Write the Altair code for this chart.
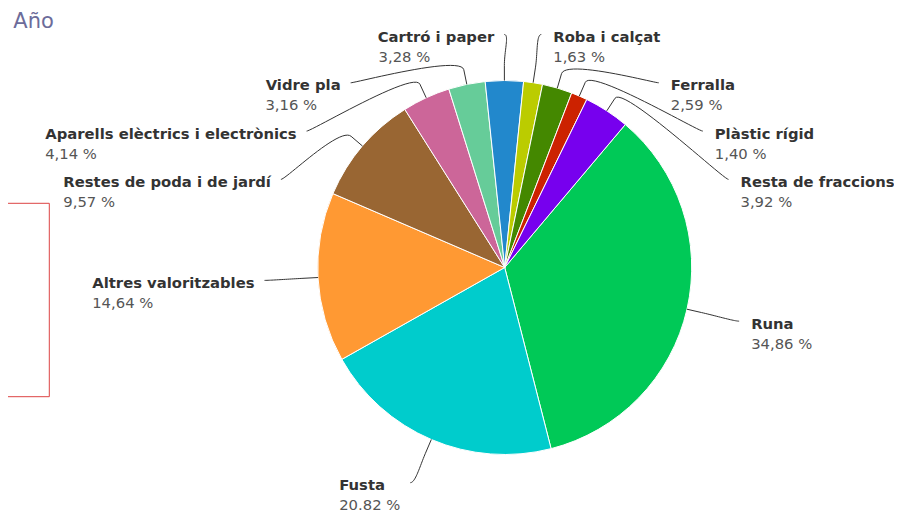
import math
import altair as alt
import pandas as pd

# ---------------- data ----------------
CATEGORIES = ["Runa", "Fusta", "Altres valoritzables", "Restes de poda i de jardí",
              "Aparells elèctrics i electrònics", "Vidre pla", "Cartró i paper",
              "Roba i calçat", "Ferralla", "Plàstic rígid", "Resta de fraccions"]
VALUES = [34.86, 20.82, 14.64, 9.57, 4.14, 3.16, 3.28, 1.63, 2.59, 1.40, 3.92]
PCT_LABELS = ["34,86 %", "20.82 %", "14,64 %", "9,57 %", "4,14 %", "3,16 %",
              "3,28 %", "1,63 %", "2,59 %", "1,40 %", "3,92 %"]
COLORS = ["#00C957", "#00CCCC", "#FF9933", "#996633", "#CC6699", "#66CC99",
          "#2288CC", "#BBCC00", "#448800", "#CC2200", "#7700EE"]
TITLE = "Año"

# ---------------- layout (chart pixel frame) ----------------
W, H = 886, 505
CX, CY = 496.7, 259.5
R = 187.0
R_LAB = 240.5
START_DEG = 40.15
CONN_OFF = 15.0
Y_TOP, SLOT, Y_BOT = 26.5, 48.3, 474.7
GAP_R, GAP_L = 12.0, 10.0
FS = 14.8
NAME_DY, PCT_DY = 7.5, 27.5
FONT = "DejaVu Sans"

# approximate DejaVu Sans advance widths (units per em = 2048)
BOLD_W = {" ": 713, "A": 1585, "C": 1499, "F": 1399, "P": 1503, "R": 1577, "V": 1585,
          "a": 1382, "b": 1466, "c": 1214, "d": 1466, "e": 1389, "è": 1389, "g": 1466,
          "i": 702, "í": 702, "j": 702, "l": 702, "n": 1458, "o": 1407, "ò": 1407,
          "p": 1466, "r": 1010, "s": 1219, "t": 979, "u": 1458, "v": 1331, "z": 1196,
          "ç": 1214, "f": 891}
REG_W = {" ": 651, ",": 651, ".": 651, "%": 1946}
for d in "0123456789":
    REG_W[d] = 1303


def text_w(s, table, default):
    return sum(table.get(ch, default) for ch in s) / 2048.0 * FS


total = sum(VALUES)
info = []
cum = 0.0
for i, (name, v, pct) in enumerate(zip(CATEGORIES, VALUES, PCT_LABELS)):
    mid = START_DEG + (cum + v / 2.0) / total * 360.0
    cum += v
    a = math.radians(mid)
    info.append(dict(i=i, name=name, pct=pct, a=a, right=(mid % 360) < 180,
                     nat=CY - R_LAB * math.cos(a)))

for side in (True, False):
    grp = sorted([d for d in info if d["right"] == side], key=lambda d: d["nat"])
    prev = None
    for d in grp:
        y = max(d["nat"], Y_TOP if prev is None else prev + SLOT)
        y = min(y, Y_BOT)
        clamped = (d["nat"] < Y_TOP and y == Y_TOP) or d["nat"] > Y_BOT
        dy = y - CY
        if clamped:
            x = CX + R_LAB * math.sin(d["a"])
        else:
            x = CX + (1 if side else -1) * math.sqrt(max(R_LAB ** 2 - dy ** 2, 0.0))
        d["x"], d["y"] = x, y
        prev = y

# connectors
conn_rows = []
for d in info:
    s, c = math.sin(d["a"]), math.cos(d["a"])
    ex, ey = CX + R * s, CY - R * c
    bx, by = CX + (R + CONN_OFF) * s, CY - (R + CONN_OFF) * c
    p0 = (d["x"], d["y"])
    p1 = (d["x"] + (-5 if d["right"] else 5), d["y"])
    p2 = (2 * bx - ex, 2 * by - ey)
    p3 = (bx, by)
    n = 24
    for k in range(n + 1):
        t = k / n
        u = 1 - t
        px = u ** 3 * p0[0] + 3 * u * u * t * p1[0] + 3 * u * t * t * p2[0] + t ** 3 * p3[0]
        py = u ** 3 * p0[1] + 3 * u * u * t * p1[1] + 3 * u * t * t * p2[1] + t ** 3 * p3[1]
        conn_rows.append(dict(cat=d["name"], seq=k, x=px, y=py))
    conn_rows.append(dict(cat=d["name"], seq=n + 1, x=ex, y=ey))
conn_df = pd.DataFrame(conn_rows)

# label texts
txt_rows = []
for d in info:
    yn, yp = d["y"] + NAME_DY, d["y"] + PCT_DY
    if d["right"]:
        lx = d["x"] + GAP_R
        txt_rows.append(dict(txt=d["name"], kind="name", align="left", x=lx, y=yn))
        txt_rows.append(dict(txt=d["pct"], kind="pct", align="left", x=lx, y=yp))
    else:
        edge = d["x"] - GAP_L
        wn = text_w(d["name"], BOLD_W, 1300)
        wp = text_w(d["pct"], REG_W, 1303)
        if wn >= wp:
            txt_rows.append(dict(txt=d["name"], kind="name", align="right", x=edge, y=yn))
            txt_rows.append(dict(txt=d["pct"], kind="pct", align="left", x=edge - wn, y=yp))
        else:
            txt_rows.append(dict(txt=d["pct"], kind="pct", align="right", x=edge, y=yp))
            txt_rows.append(dict(txt=d["name"], kind="name", align="left", x=edge - wp, y=yn))
txt_df = pd.DataFrame(txt_rows)

XS = alt.Scale(domain=[0, W], nice=False, zero=False)
YS = alt.Scale(domain=[H, 0], nice=False, zero=False)

pie_df = pd.DataFrame({"cat": CATEGORIES, "value": VALUES, "idx": list(range(len(VALUES)))})
s0 = math.radians(START_DEG)

arc = alt.Chart(pie_df).mark_arc(radius=R, stroke="white", strokeWidth=1).encode(
    theta=alt.Theta("value:Q", stack=True, scale=alt.Scale(range=[s0, s0 + 2 * math.pi])),
    color=alt.Color("cat:N", scale=alt.Scale(domain=CATEGORIES, range=COLORS), legend=None),
    order=alt.Order("idx:Q"),
    x=alt.XDatum(CX, type="quantitative", scale=XS, axis=None),
    y=alt.YDatum(CY, type="quantitative", scale=YS, axis=None),
)

conn = alt.Chart(conn_df).mark_line(color="#333333", strokeWidth=1).encode(
    x=alt.X("x:Q", scale=XS, axis=None),
    y=alt.Y("y:Q", scale=YS, axis=None),
    detail="cat:N",
    order="seq:Q",
)

text_layers = []
for kind, weight, color in (("name", "bold", "#333333"), ("pct", "normal", "#555555")):
    for al in ("left", "right"):
        sub = txt_df[(txt_df["kind"] == kind) & (txt_df["align"] == al)]
        if len(sub) == 0:
            continue
        text_layers.append(
            alt.Chart(sub).mark_text(align=al, baseline="alphabetic", font=FONT,
                                     fontSize=FS, fontWeight=weight, color=color).encode(
                x=alt.X("x:Q", scale=XS, axis=None),
                y=alt.Y("y:Q", scale=YS, axis=None),
                text="txt:N",
            )
        )

title_df = pd.DataFrame({"txt": [TITLE], "x": [5.3], "y": [20.0]})
title = alt.Chart(title_df).mark_text(align="left", baseline="alphabetic", font=FONT,
                                      fontSize=21, color="#6c6c9a").encode(
    x=alt.X("x:Q", scale=XS, axis=None),
    y=alt.Y("y:Q", scale=YS, axis=None),
    text="txt:N",
)

box_df = pd.DataFrame({"x0": [-20.0], "x1": [41.3], "y0": [195.3], "y1": [388.7]})
box = alt.Chart(box_df).mark_rect(fillOpacity=0, stroke="#dd4444", strokeWidth=1).encode(
    x=alt.X("x0:Q", scale=XS, axis=None), x2="x1",
    y=alt.Y("y0:Q", scale=YS, axis=None), y2="y1",
)

chart = alt.layer(box, arc, conn, *text_layers, title).properties(
    width=W, height=H, padding=0, autosize=alt.AutoSizeParams(type="none")
).configure_view(stroke=None)

chart.save("out.html", embed_options={"renderer": "svg", "actions": False})
